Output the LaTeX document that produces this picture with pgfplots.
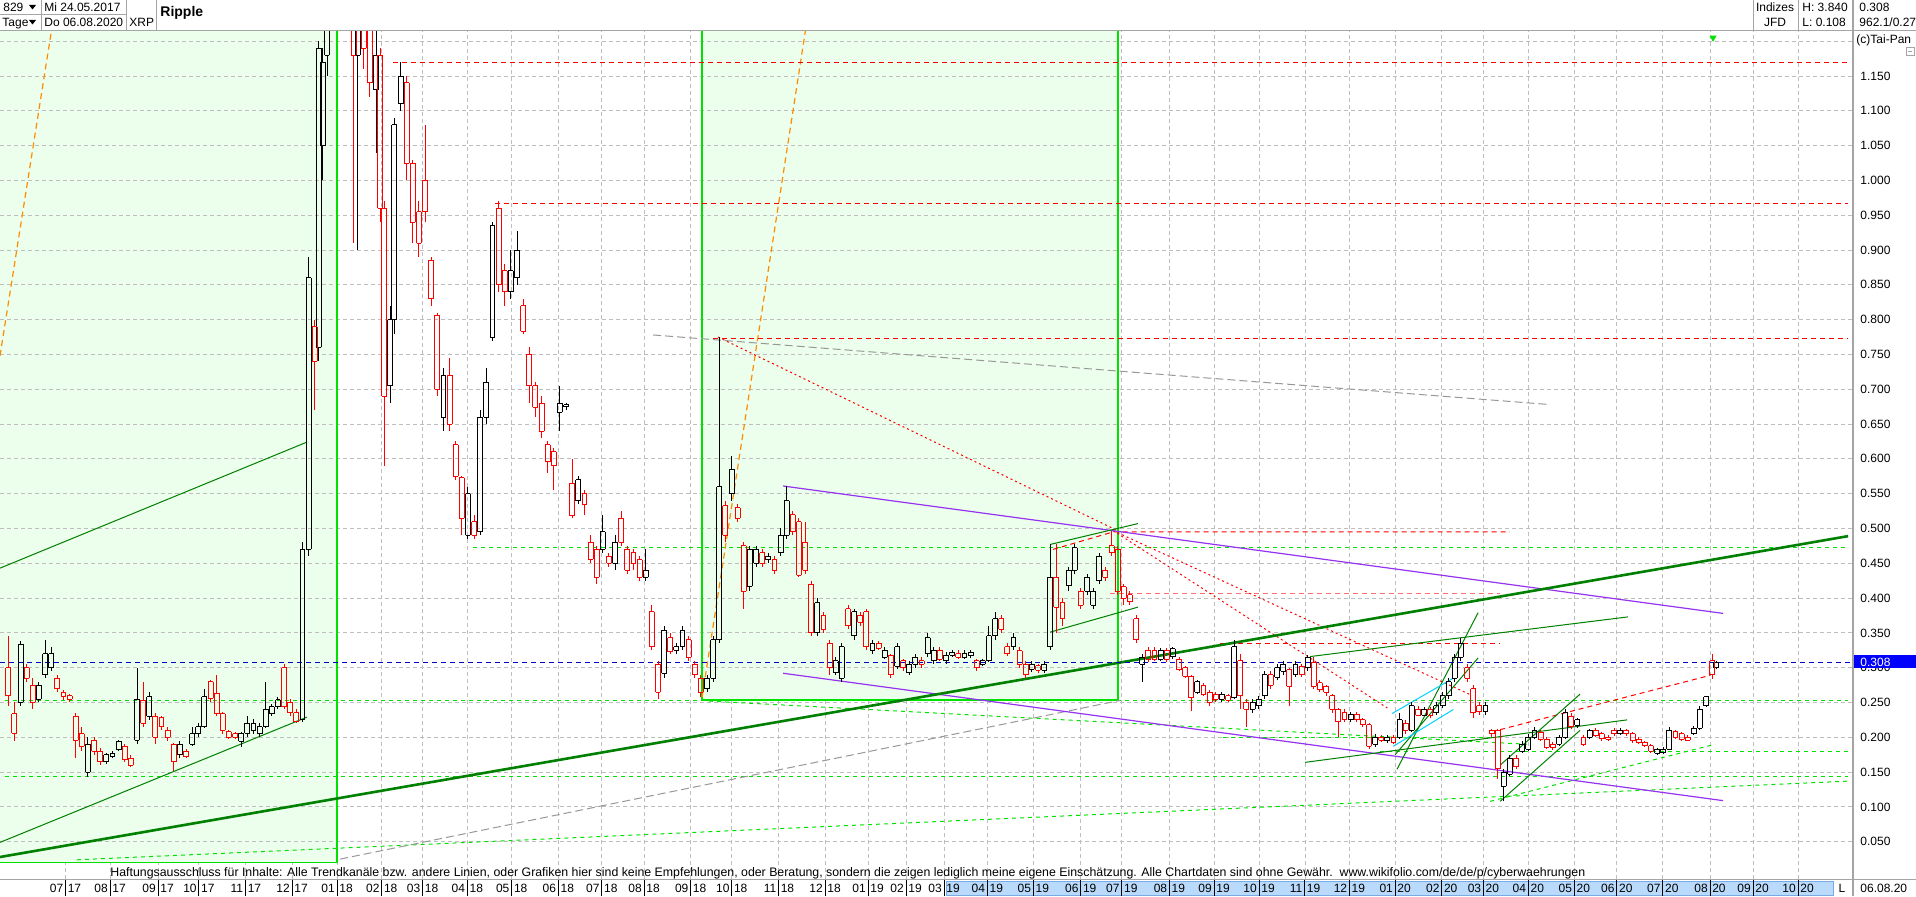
\documentclass[border=0pt]{standalone}
\usepackage{pgfplots}
\pgfplotsset{compat=1.18}
\usepackage{pgfplotstable}
\usepackage{fontspec}
\setmainfont{Liberation Sans}
\usepackage{graphicx}

\definecolor{boxg}{RGB}{236,254,236}
\definecolor{limeg}{RGB}{0,225,0}
\definecolor{dkg}{RGB}{0,128,0}
\definecolor{purp}{RGB}{150,50,240}
\definecolor{orng}{RGB}{255,140,0}
\definecolor{gridc}{RGB}{190,190,190}
\definecolor{tpblue}{RGB}{0,0,200}
\definecolor{cyanl}{RGB}{0,210,255}
\definecolor{lred}{RGB}{255,110,110}
\definecolor{barblue}{RGB}{185,218,250}
\definecolor{barborder}{RGB}{120,170,230}
\definecolor{frm}{RGB}{165,165,165}

\newcommand{\sz}{\fontsize{6pt}{7pt}\selectfont}
\newcommand{\ms}[2]{#1\hspace{0.9pt}\rule[-2pt]{0.5pt}{8pt}\hspace{0.9pt}#2}

% rising candles (close > open)
\pgfplotstableread{
i o h l c
6 0.25 0.338 0.245 0.334
15 0.255 0.28 0.25 0.275
18 0.29 0.34 0.285 0.32
21 0.30 0.33 0.295 0.32
39 0.15 0.2 0.143 0.19
48 0.165 0.178 0.162 0.175
51 0.172 0.18 0.17 0.176
54 0.182 0.196 0.18 0.194
63 0.196 0.30 0.19 0.255
69 0.23 0.265 0.225 0.258
84 0.175 0.195 0.17 0.19
90 0.19 0.215 0.187 0.205
93 0.205 0.22 0.20 0.215
96 0.215 0.27 0.213 0.258
114 0.194 0.208 0.186 0.206
117 0.206 0.23 0.20 0.22
120 0.21 0.226 0.205 0.22
123 0.205 0.22 0.20 0.215
126 0.215 0.28 0.213 0.24
129 0.234 0.248 0.23 0.244
132 0.244 0.258 0.24 0.254
144 0.226 0.48 0.222 0.47
147 0.47 0.89 0.46 0.86
152 0.76 1.20 0.74 1.19
154 1.05 1.19 1.0 1.17
156 1.18 1.6 1.15 1.5
159 1.9 2.5 1.8 2.3
162 2.3 3.84 2.2 3.2
171 1.18 1.7 0.9 1.5
180 1.13 1.22 1.04 1.18
187 0.705 0.82 0.68 0.80
189 0.80 1.09 0.78 1.08
192 1.11 1.17 1.10 1.15
213 0.66 0.73 0.64 0.72
225 0.49 0.56 0.485 0.55
231 0.495 0.67 0.49 0.66
234 0.66 0.73 0.65 0.71
237 0.775 0.94 0.77 0.935
246 0.84 0.90 0.83 0.87
249 0.86 0.927 0.85 0.90
270 0.667 0.705 0.64 0.68
273 0.675 0.68 0.67 0.678
279 0.54 0.575 0.535 0.57
291 0.47 0.52 0.465 0.495
297 0.45 0.49 0.44 0.48
312 0.43 0.47 0.425 0.44
321 0.292 0.36 0.285 0.354
327 0.325 0.335 0.32 0.33
330 0.33 0.36 0.325 0.354
342 0.27 0.29 0.265 0.285
345 0.285 0.345 0.28 0.34
348 0.34 0.775 0.335 0.56
354 0.55 0.604 0.54 0.585
363 0.417 0.475 0.41 0.47
366 0.45 0.475 0.445 0.47
372 0.455 0.465 0.45 0.46
378 0.465 0.50 0.46 0.49
381 0.49 0.561 0.485 0.54
396 0.35 0.40 0.345 0.393
405 0.293 0.315 0.29 0.31
408 0.285 0.335 0.28 0.33
414 0.346 0.385 0.34 0.38
423 0.325 0.34 0.32 0.335
429 0.315 0.33 0.312 0.325
435 0.302 0.335 0.298 0.33
441 0.293 0.31 0.29 0.305
444 0.305 0.32 0.30 0.315
450 0.32 0.35 0.315 0.343
453 0.31 0.33 0.305 0.325
459 0.31 0.322 0.305 0.318
462 0.318 0.325 0.315 0.322
468 0.315 0.325 0.312 0.32
471 0.317 0.326 0.314 0.322
477 0.305 0.313 0.302 0.31
480 0.31 0.36 0.308 0.346
483 0.346 0.38 0.34 0.37
492 0.33 0.35 0.325 0.343
501 0.298 0.31 0.294 0.305
507 0.296 0.31 0.293 0.305
510 0.33 0.477 0.325 0.43
519 0.418 0.445 0.41 0.44
522 0.44 0.478 0.435 0.472
528 0.41 0.435 0.405 0.43
531 0.39 0.415 0.385 0.41
534 0.425 0.465 0.42 0.46
555 0.305 0.32 0.28 0.315
564 0.312 0.328 0.31 0.325
570 0.316 0.33 0.312 0.327
582 0.265 0.283 0.262 0.28
594 0.255 0.265 0.25 0.262
600 0.257 0.34 0.255 0.33
609 0.24 0.255 0.235 0.25
612 0.245 0.26 0.24 0.255
615 0.26 0.295 0.255 0.29
621 0.286 0.305 0.283 0.30
624 0.295 0.31 0.29 0.305
630 0.29 0.31 0.287 0.305
636 0.30 0.318 0.295 0.315
657 0.225 0.236 0.222 0.233
669 0.19 0.205 0.186 0.20
675 0.195 0.203 0.192 0.20
681 0.20 0.235 0.198 0.225
687 0.21 0.25 0.207 0.245
693 0.232 0.243 0.23 0.24
699 0.235 0.25 0.232 0.245
702 0.245 0.265 0.242 0.26
705 0.26 0.285 0.255 0.28
708 0.285 0.32 0.28 0.315
711 0.315 0.343 0.31 0.335
723 0.237 0.25 0.232 0.245
732 0.13 0.155 0.108 0.15
735 0.147 0.175 0.145 0.17
741 0.18 0.195 0.178 0.19
744 0.183 0.205 0.18 0.20
747 0.20 0.215 0.198 0.21
759 0.19 0.203 0.187 0.20
762 0.20 0.24 0.198 0.235
768 0.217 0.228 0.214 0.225
774 0.20 0.212 0.197 0.21
789 0.205 0.213 0.203 0.21
807 0.177 0.185 0.175 0.183
810 0.178 0.186 0.176 0.183
813 0.183 0.215 0.182 0.21
825 0.205 0.216 0.203 0.213
828 0.213 0.245 0.21 0.24
831 0.245 0.26 0.243 0.258
836 0.30 0.31 0.298 0.308
}\blk

% falling candles (close < open)
\pgfplotstableread{
i o h l c
0 0.30 0.345 0.245 0.26
3 0.234 0.25 0.195 0.206
9 0.30 0.305 0.28 0.285
12 0.275 0.285 0.24 0.25
24 0.285 0.29 0.265 0.27
27 0.265 0.268 0.253 0.258
30 0.26 0.262 0.25 0.255
33 0.23 0.235 0.17 0.196
36 0.205 0.215 0.18 0.187
42 0.196 0.2 0.175 0.18
45 0.18 0.185 0.16 0.165
57 0.187 0.19 0.165 0.168
60 0.17 0.175 0.158 0.16
66 0.253 0.28 0.215 0.22
72 0.23 0.235 0.19 0.20
75 0.228 0.23 0.21 0.215
78 0.21 0.215 0.195 0.20
81 0.19 0.192 0.152 0.165
87 0.18 0.183 0.17 0.172
99 0.28 0.282 0.25 0.256
102 0.263 0.29 0.23 0.234
105 0.234 0.236 0.205 0.21
108 0.208 0.21 0.197 0.20
111 0.205 0.207 0.197 0.20
135 0.30 0.305 0.24 0.244
138 0.25 0.255 0.23 0.235
141 0.235 0.24 0.22 0.222
150 0.79 0.80 0.67 0.74
165 3.0 3.1 2.2 2.3
169 1.7 1.75 0.91 1.18
174 1.5 1.6 1.16 1.19
177 1.4 1.45 1.12 1.14
182 1.18 1.19 0.94 0.96
184 0.96 0.97 0.59 0.69
195 1.14 1.15 1.0 1.025
198 1.025 1.03 0.91 0.94
201 0.955 0.97 0.89 0.91
204 1.0 1.08 0.94 0.955
207 0.885 0.89 0.82 0.83
210 0.806 0.81 0.69 0.70
216 0.72 0.745 0.64 0.65
219 0.62 0.625 0.57 0.575
222 0.573 0.575 0.49 0.515
228 0.51 0.52 0.485 0.49
240 0.96 0.97 0.84 0.85
243 0.87 0.88 0.82 0.84
252 0.82 0.83 0.78 0.783
255 0.75 0.76 0.68 0.705
258 0.705 0.71 0.66 0.674
261 0.68 0.69 0.63 0.64
264 0.62 0.625 0.58 0.596
267 0.61 0.615 0.555 0.59
276 0.565 0.60 0.515 0.518
282 0.55 0.555 0.52 0.535
285 0.48 0.49 0.45 0.456
288 0.47 0.475 0.42 0.43
294 0.46 0.465 0.445 0.45
300 0.515 0.525 0.475 0.48
303 0.47 0.475 0.435 0.44
306 0.465 0.47 0.44 0.45
309 0.455 0.46 0.425 0.43
315 0.38 0.39 0.325 0.33
318 0.305 0.31 0.255 0.265
324 0.343 0.35 0.32 0.323
333 0.34 0.345 0.31 0.315
336 0.305 0.31 0.285 0.29
339 0.285 0.29 0.258 0.265
351 0.533 0.54 0.48 0.49
357 0.53 0.535 0.51 0.515
360 0.475 0.48 0.385 0.41
369 0.465 0.47 0.445 0.45
375 0.455 0.46 0.435 0.44
384 0.52 0.525 0.49 0.495
387 0.51 0.515 0.43 0.433
390 0.48 0.51 0.435 0.44
393 0.42 0.425 0.345 0.35
399 0.375 0.38 0.35 0.355
402 0.335 0.34 0.29 0.30
411 0.385 0.39 0.355 0.36
417 0.375 0.38 0.36 0.365
420 0.38 0.385 0.325 0.33
426 0.335 0.338 0.325 0.328
432 0.318 0.32 0.285 0.29
438 0.31 0.312 0.295 0.30
447 0.31 0.315 0.30 0.305
456 0.325 0.33 0.31 0.312
465 0.32 0.325 0.312 0.315
474 0.31 0.312 0.295 0.30
486 0.37 0.375 0.35 0.355
489 0.33 0.335 0.317 0.32
495 0.324 0.33 0.30 0.305
498 0.305 0.31 0.285 0.29
504 0.303 0.305 0.292 0.296
513 0.43 0.477 0.35 0.387
516 0.393 0.40 0.36 0.37
525 0.41 0.415 0.385 0.39
537 0.44 0.445 0.425 0.43
540 0.475 0.497 0.46 0.465
543 0.47 0.475 0.405 0.41
546 0.416 0.42 0.39 0.40
549 0.405 0.41 0.39 0.395
552 0.37 0.375 0.335 0.34
558 0.325 0.33 0.308 0.312
561 0.325 0.33 0.31 0.312
567 0.325 0.328 0.308 0.312
573 0.312 0.315 0.295 0.297
576 0.30 0.302 0.285 0.288
579 0.288 0.29 0.238 0.257
585 0.275 0.278 0.26 0.262
588 0.265 0.268 0.245 0.25
591 0.262 0.265 0.25 0.255
597 0.26 0.262 0.25 0.253
603 0.31 0.32 0.24 0.26
606 0.25 0.255 0.215 0.24
618 0.29 0.295 0.27 0.275
627 0.297 0.30 0.245 0.273
633 0.302 0.305 0.287 0.29
639 0.308 0.315 0.27 0.273
642 0.278 0.282 0.265 0.268
645 0.273 0.275 0.26 0.265
648 0.26 0.262 0.235 0.24
651 0.24 0.242 0.20 0.222
654 0.235 0.24 0.222 0.225
660 0.233 0.236 0.222 0.225
663 0.225 0.228 0.215 0.218
666 0.218 0.22 0.183 0.187
672 0.20 0.203 0.193 0.196
678 0.20 0.203 0.19 0.193
684 0.22 0.225 0.205 0.21
690 0.24 0.245 0.23 0.232
696 0.24 0.243 0.228 0.232
714 0.30 0.305 0.28 0.285
717 0.27 0.275 0.228 0.235
720 0.245 0.25 0.232 0.237
726 0.21 0.212 0.20 0.205
729 0.21 0.212 0.14 0.155
738 0.17 0.175 0.155 0.158
750 0.207 0.21 0.195 0.197
753 0.197 0.20 0.183 0.186
756 0.19 0.193 0.182 0.185
765 0.23 0.235 0.212 0.215
771 0.20 0.203 0.188 0.19
777 0.21 0.213 0.20 0.202
780 0.205 0.207 0.195 0.198
783 0.20 0.203 0.194 0.197
786 0.21 0.213 0.202 0.205
792 0.21 0.212 0.202 0.205
795 0.205 0.208 0.192 0.195
798 0.197 0.20 0.19 0.192
801 0.193 0.195 0.186 0.188
804 0.188 0.19 0.178 0.18
816 0.208 0.21 0.198 0.20
819 0.205 0.208 0.195 0.197
822 0.20 0.203 0.194 0.196
834 0.31 0.32 0.284 0.29
}\red

\pgfplotsset{
  rdash/.style={red, line width=0.5pt, dash pattern=on 2.5pt off 2pt},
  rdot/.style={red, line width=0.5pt, dash pattern=on 1pt off 1.5pt},
  gdash/.style={limeg, line width=0.5pt, dash pattern=on 2pt off 2pt},
  thing/.style={dkg, line width=0.5pt},
  greyd/.style={gridc!80!black, line width=0.5pt, dash pattern=on 4pt off 2pt},
}

\begin{document}
\begin{tikzpicture}
\useasboundingbox (0,0) rectangle (958pt,448pt);
\fill[white] (0,0) rectangle (958pt,448pt);
\begin{scope}[shift={(0pt,448pt)}, x=0.5pt, y=-0.5pt]
  \filldraw[fill=barblue, draw=barborder, line width=0.5pt] (946,881.5) rectangle (1833,895);
\end{scope}

\begin{axis}[
  at={(0pt,8.5pt)}, anchor=south west,
  scale only axis, width=926.5pt, height=424pt,
  xmin=-4.06, xmax=902.9, ymin=-0.0036, ymax=1.2147,
  axis line style={draw=none},
  major tick length=0pt,
  xtick={28.0,49.8,73.3,93.3,116.3,138.9,160.9,182.8,202.8,224.7,246.4,269.2,290.5,311.2,334.0,354.1,377.2,399.8,420.8,439.4,458.0,479.2,501.7,524.9,545.0,568.3,590.2,612.2,634.7,656.4,678.8,701.6,722.0,744.0,766.5,787.3,809.8,832.9,854.0,876.0},
  xticklabels={\ms{07}{17},\ms{08}{17},\ms{09}{17},\ms{10}{17},\ms{11}{17},\ms{12}{17},\ms{01}{18},\ms{02}{18},\ms{03}{18},\ms{04}{18},\ms{05}{18},\ms{06}{18},\ms{07}{18},\ms{08}{18},\ms{09}{18},\ms{10}{18},\ms{11}{18},\ms{12}{18},\ms{01}{19},\ms{02}{19},\ms{03}{19},\ms{04}{19},\ms{05}{19},\ms{06}{19},\ms{07}{19},\ms{08}{19},\ms{09}{19},\ms{10}{19},\ms{11}{19},\ms{12}{19},\ms{01}{20},\ms{02}{20},\ms{03}{20},\ms{04}{20},\ms{05}{20},\ms{06}{20},\ms{07}{20},\ms{08}{20},\ms{09}{20},\ms{10}{20}},
  xticklabel style={font=\sz, anchor=center, inner sep=0pt, yshift=-4.5pt},
  ytick={0.05,0.1,0.15,0.2,0.25,0.3,0.35,0.4,0.45,0.5,0.55,0.6,0.65,0.7,0.75,0.8,0.85,0.9,0.95,1.0,1.05,1.1,1.15},
  yticklabel pos=right,
  yticklabel={\pgfmathprintnumber[fixed,fixed zerofill,precision=3,assume math mode=true]{\tick}},
  yticklabel style={font=\sz, anchor=west, inner sep=0pt, xshift=3.5pt},
  clip marker paths=true,
]
% vertical grid (hidden by boxes)
\addplot[draw=none, mark=none, error bars/.cd, y dir=plus, y fixed=1.23, error mark=none,
  error bar style={line width=0.5pt, draw=gridc, dash pattern=on 2pt off 1.5pt}]
  coordinates {(28.0,-0.0036) (49.8,-0.0036) (73.3,-0.0036) (93.3,-0.0036) (116.3,-0.0036) (138.9,-0.0036) (160.9,-0.0036) (182.8,-0.0036) (202.8,-0.0036) (224.7,-0.0036) (246.4,-0.0036) (269.2,-0.0036) (290.5,-0.0036) (311.2,-0.0036) (334.0,-0.0036) (354.1,-0.0036) (377.2,-0.0036) (399.8,-0.0036) (420.8,-0.0036) (439.4,-0.0036) (458.0,-0.0036) (479.2,-0.0036) (501.7,-0.0036) (524.9,-0.0036) (545.0,-0.0036) (568.3,-0.0036) (590.2,-0.0036) (612.2,-0.0036) (634.7,-0.0036) (656.4,-0.0036) (678.8,-0.0036) (701.6,-0.0036) (722.0,-0.0036) (744.0,-0.0036) (766.5,-0.0036) (787.3,-0.0036) (809.8,-0.0036) (832.9,-0.0036) (854.0,-0.0036) (876.0,-0.0036)};
% shaded boxes
\addplot[fill=boxg, draw=none] coordinates {(-4.06,0.02) (160.7,0.02) (160.7,1.2147) (-4.06,1.2147)};
\addplot[fill=boxg, draw=none] coordinates {(339.4,0.253) (543.2,0.253) (543.2,1.2147) (339.4,1.2147)};
% horizontal grid
\addplot[draw=none, mark=none, error bars/.cd, x dir=plus, x fixed=910, error mark=none,
  error bar style={line width=0.5pt, draw=gridc, dash pattern=on 2pt off 1.5pt}]
  coordinates {(-4.06,0.05) (-4.06,0.1) (-4.06,0.15) (-4.06,0.2) (-4.06,0.25) (-4.06,0.3) (-4.06,0.35) (-4.06,0.4) (-4.06,0.45) (-4.06,0.5) (-4.06,0.55) (-4.06,0.6) (-4.06,0.65) (-4.06,0.7) (-4.06,0.75) (-4.06,0.8) (-4.06,0.85) (-4.06,0.9) (-4.06,0.95) (-4.06,1.0) (-4.06,1.05) (-4.06,1.1) (-4.06,1.15) (-4.06,1.2)};
% box edges
\addplot[limeg, line width=0.9pt] coordinates {(-4.06,0.02) (160.7,0.02) (160.7,1.2147)};
\addplot[limeg, line width=0.9pt] coordinates {(339.4,1.2147) (339.4,0.253) (543.2,0.253) (543.2,1.2147)};

% lime dashed levels
\addplot[gdash] coordinates {(227.5,0.473) (900.5,0.473)};
\addplot[gdash] coordinates {(-1.6,0.2535) (900.5,0.2535)};
\addplot[gdash] coordinates {(-1.6,0.144) (900.5,0.144)};
\addplot[gdash] coordinates {(33.6,0.024) (900.5,0.137)};
\addplot[gdash] coordinates {(671.4,0.179) (900.5,0.179)};
\addplot[gdash] coordinates {(594.6,0.2) (725.3,0.2)};
\addplot[gdash] coordinates {(343,0.252) (743.4,0.19)};
\addplot[gdash] coordinates {(725.3,0.108) (835.4,0.19)};
% grey lines
\addplot[greyd] coordinates {(315.6,0.778) (754.6,0.678)};
\addplot[greyd] coordinates {(162.4,0.025) (544.2,0.253)};
% orange dashed fans
\addplot[orng, line width=0.6pt, dash pattern=on 3pt off 2pt] coordinates {(-4.06,0.748) (23,1.25)};
\addplot[orng, line width=0.6pt, dash pattern=on 3pt off 2pt] coordinates {(339.6,0.258) (392,1.25)};
% red levels
\addplot[rdash] coordinates {(188.3,1.170) (900.5,1.170)};
\addplot[rdash] coordinates {(238.2,0.967) (900.5,0.967)};
\addplot[rdash] coordinates {(345,0.773) (900.5,0.773)};
\addplot[rdash] coordinates {(511.4,0.47) (540.7,0.495) (735,0.495)};
\addplot[lred, line width=0.5pt, dash pattern=on 2.5pt off 2pt] coordinates {(539.3,0.407) (730.2,0.407)};
\addplot[rdash] coordinates {(593,0.335) (730.2,0.335)};
\addplot[rdot] coordinates {(347.4,0.775) (544.2,0.495)};
\addplot[rdot] coordinates {(540.7,0.497) (675,0.242)};
\addplot[rdot] coordinates {(540.7,0.497) (715,0.262)};
\addplot[rdash] coordinates {(730.2,0.211) (833,0.289)};
% purple channel
\addplot[purp, line width=0.6pt] coordinates {(379.2,0.561) (839.3,0.378)};
\addplot[purp, line width=0.6pt] coordinates {(379.2,0.292) (839.3,0.109)};
% green trend lines
\addplot[dkg, line width=1.3pt] coordinates {(-4.06,0.028) (900.5,0.489)};
\addplot[thing] coordinates {(-4.06,0.443) (146.1,0.624)};
\addplot[thing] coordinates {(-4.06,0.049) (146.2,0.229)};
\addplot[thing] coordinates {(509.9,0.477) (552.9,0.507)};
\addplot[thing] coordinates {(509.9,0.351) (552.9,0.387)};
\addplot[thing] coordinates {(637.2,0.316) (792.8,0.373)};
\addplot[thing] coordinates {(634.7,0.164) (792.3,0.225)};
\addplot[thing] coordinates {(679.7,0.154) (719.4,0.379)};
\addplot[thing] coordinates {(678.8,0.175) (719.4,0.314)};
\addplot[thing] coordinates {(730.2,0.108) (769.3,0.21)};
\addplot[thing] coordinates {(730.2,0.16) (769.3,0.262)};
\addplot[cyanl, line width=0.5pt] coordinates {(677.2,0.234) (707.3,0.285)};
\addplot[cyanl, line width=0.5pt] coordinates {(677.9,0.187) (707.3,0.24)};
% last price level
\addplot[tpblue, line width=0.5pt, dash pattern=on 2.5pt off 2pt] coordinates {(-4.06,0.308) (902.9,0.308)};

% rising candles (black)
\addplot[draw=none, mark=none, error bars/.cd, y dir=plus, y explicit, error mark=none, error bar style={line width=0.5pt, draw=black}] table[x=i, y=c, y error plus expr=\thisrow{h}-\thisrow{c}] {\blk};
\addplot[draw=none, mark=none, error bars/.cd, y dir=minus, y explicit, error mark=none, error bar style={line width=0.5pt, draw=black}] table[x=i, y=o, y error minus expr=\thisrow{o}-\thisrow{l}] {\blk};
\addplot[draw=none, mark=none, error bars/.cd, y dir=plus, y explicit, error mark=none, error bar style={line width=0.5pt, draw=black}] table[x expr=\thisrow{i}-1.2, y=o, y error plus expr=\thisrow{c}-\thisrow{o}] {\blk};
\addplot[draw=none, mark=none, error bars/.cd, y dir=plus, y explicit, error mark=none, error bar style={line width=0.5pt, draw=black}] table[x expr=\thisrow{i}+1.2, y=o, y error plus expr=\thisrow{c}-\thisrow{o}] {\blk};
\addplot[only marks, mark=-, mark size=1.23pt, mark options={line width=0.5pt, draw=black}] table[x=i, y=o] {\blk};
\addplot[only marks, mark=-, mark size=1.23pt, mark options={line width=0.5pt, draw=black}] table[x=i, y=c] {\blk};
% falling candles (red)
\addplot[draw=none, mark=none, error bars/.cd, y dir=plus, y explicit, error mark=none, error bar style={line width=0.5pt, draw=red}] table[x=i, y=o, y error plus expr=\thisrow{h}-\thisrow{o}] {\red};
\addplot[draw=none, mark=none, error bars/.cd, y dir=minus, y explicit, error mark=none, error bar style={line width=0.5pt, draw=red}] table[x=i, y=c, y error minus expr=\thisrow{c}-\thisrow{l}] {\red};
\addplot[draw=none, mark=none, error bars/.cd, y dir=plus, y explicit, error mark=none, error bar style={line width=0.5pt, draw=red}] table[x expr=\thisrow{i}-1.2, y=c, y error plus expr=\thisrow{o}-\thisrow{c}] {\red};
\addplot[draw=none, mark=none, error bars/.cd, y dir=plus, y explicit, error mark=none, error bar style={line width=0.5pt, draw=red}] table[x expr=\thisrow{i}+1.2, y=c, y error plus expr=\thisrow{o}-\thisrow{c}] {\red};
\addplot[only marks, mark=-, mark size=1.23pt, mark options={line width=0.5pt, draw=red}] table[x=i, y=o] {\red};
\addplot[only marks, mark=-, mark size=1.23pt, mark options={line width=0.5pt, draw=red}] table[x=i, y=c] {\red};
% signal marker at top
\addplot[only marks, mark=triangle*, mark size=1.6pt, mark options={rotate=180, fill=limeg, draw=limeg}] coordinates {(834.4,1.205)};
\end{axis}

\begin{scope}[shift={(0pt,448pt)}, x=0.5pt, y=-0.5pt]
  % frame lines
  \draw[frm, line width=0.7pt] (0,30.5) -- (1916,30.5);
  \draw[frm, line width=0.7pt] (1853,0) -- (1853,896);
  \draw[frm, line width=0.6pt] (0,879.5) -- (1916,879.5);
  \draw[frm, line width=0.5pt] (41,0) -- (41,30) (126,0) -- (126,30) (156,0) -- (156,30) (0,15) -- (126,15);
  \draw[frm, line width=0.5pt] (1753,0) -- (1753,30) (1798,0) -- (1798,30);
  % header texts
  \fill (29,5) -- (36,5) -- (32.5,9.5) -- cycle;
  \fill (29,20) -- (36,20) -- (32.5,24.5) -- cycle;
  \node[anchor=base west, inner sep=0pt, font=\sz] at (3,12) {829};
  \node[anchor=base west, inner sep=0pt, font=\sz] at (44,12) {Mi 24.05.2017};
  \node[anchor=base west, inner sep=0pt, font=\sz] at (2,27) {Tage};
  \node[anchor=base west, inner sep=0pt, font=\sz] at (44,27) {Do 06.08.2020};
  \node[anchor=base west, inner sep=0pt, font=\sz] at (129,27) {XRP};
  \node[anchor=base west, inner sep=0pt, font=\fontsize{7pt}{8pt}\selectfont\bfseries] at (160,17) {Ripple};
  \node[anchor=base, inner sep=0pt, font=\sz] at (1775,12) {Indizes};
  \node[anchor=base, inner sep=0pt, font=\sz] at (1775,27) {JFD};
  \node[anchor=base west, inner sep=0pt, font=\sz] at (1802,12) {H: 3.840};
  \node[anchor=base west, inner sep=0pt, font=\sz] at (1802,27) {L: 0.108};
  \node[anchor=base west, inner sep=0pt, font=\sz] at (1859,12) {0.308};
  \node[anchor=base west, inner sep=0pt, font=\sz] at (1859,27) {962.1/0.27};
  \node[anchor=base west, inner sep=0pt, font=\sz] at (1856,44) {(c)Tai-Pan};
  \draw[frm, line width=0.5pt] (1906,48) rectangle (1914,56);
  \draw[frm, line width=0.5pt] (1908,52) -- (1912,52);
  % last price box
  \fill[blue] (1854,655) rectangle (1916,668);
  \node[anchor=base west, inner sep=0pt, font=\sz, text=white] at (1860,666) {0.308};
  % bottom texts
  \node[anchor=base west, inner sep=0pt] at (110,876) {\resizebox{737.5pt}{!}{\sz Haftungsausschluss für Inhalte: Alle Trendkanäle bzw. andere Linien, oder Grafiken hier sind keine Empfehlungen, oder Beratung, sondern die zeigen lediglich meine eigene Einschätzung. Alle Chartdaten sind ohne Gewähr.\ \ www.wikifolio.com/de/de/p/cyberwaehrungen}};
  \node[anchor=base, inner sep=0pt, font=\sz] at (1842,892) {L};
  \node[anchor=base west, inner sep=0pt, font=\sz] at (1860,892) {06.08.20};
\end{scope}
\end{tikzpicture}
\end{document}
